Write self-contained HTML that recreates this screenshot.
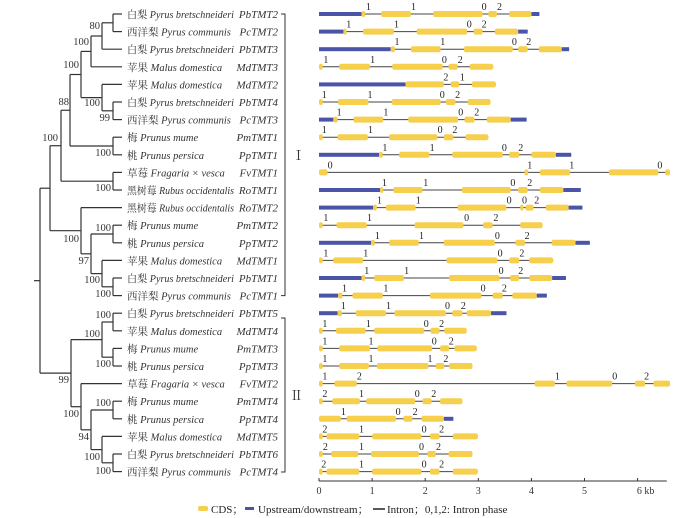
<!DOCTYPE html>
<html><head><meta charset="utf-8">
<style>
html,body{margin:0;padding:0;background:#fff;}
svg{display:block;font-family:"Liberation Serif","Noto Serif CJK SC",serif;}
</style></head>
<body>
<svg id="fig" width="697" height="518" viewBox="0 0 697 518" xmlns="http://www.w3.org/2000/svg">
  <g id="tree" stroke="#333" stroke-width="1.2" fill="none"></g>
  <g id="labels"></g>
  <g id="genes"></g>
  <g id="axis"></g>
  <g stroke="#333" stroke-width="1" fill="none">
    <path d="M281 14 H285 V295.6 H281"/>
    <path d="M281 318 H285 V472 H281"/>
  </g>
  <text x="292" y="160" font-size="13" fill="#333">Ⅰ</text>
  <text x="290" y="400" font-size="13" fill="#333">Ⅱ</text>
  <g font-size="11" fill="#222">
    <rect x="198" y="506" width="10" height="5" rx="2" fill="#f6cf4c"/>
    <text x="211" y="513">CDS；</text>
    <rect x="245" y="507" width="9" height="3" fill="#4b55a8"/>
    <text x="258" y="513">Upstream/downstream；</text>
    <line x1="373" y1="509" x2="385" y2="509" stroke="#222" stroke-width="1.5"/>
    <text x="387" y="513">Intron；0,1,2: Intron phase</text>
  </g>
</svg>
<script>
const NS="http://www.w3.org/2000/svg";
const speciesCN=["白梨","西洋梨","白梨","苹果","苹果","白梨","西洋梨","梅","桃","草莓","黑树莓","黑树莓","梅","桃","苹果","白梨","西洋梨","白梨","苹果","梅","桃","草莓","梅","桃","苹果","白梨","西洋梨"];
const speciesLatin=["Pyrus bretschneideri","Pyrus communis","Pyrus bretschneideri","Malus domestica","Malus domestica","Pyrus bretschneideri","Pyrus communis","Prunus mume","Prunus persica","Fragaria × vesca","Rubus occidentalis","Rubus occidentalis","Prunus mume","Prunus persica","Malus domestica","Pyrus bretschneideri","Pyrus communis","Pyrus bretschneideri","Malus domestica","Prunus mume","Prunus persica","Fragaria × vesca","Prunus mume","Prunus persica","Malus domestica","Pyrus bretschneideri","Pyrus communis"];
const geneNames=["PbTMT2","PcTMT2","PbTMT3","MdTMT3","MdTMT2","PbTMT4","PcTMT3","PmTMT1","PpTMT1","FvTMT1","RoTMT1","RoTMT2","PmTMT2","PpTMT2","MdTMT1","PbTMT1","PcTMT1","PbTMT5","MdTMT4","PmTMT3","PpTMT3","FvTMT2","PmTMT4","PpTMT4","MdTMT5","PbTMT6","PcTMT4"];
const cdsSegments=[
[[0.80,0.87],[1.17,1.73],[2.15,3.08],[3.19,3.35],[3.58,4.00]],
[[0.46,0.52],[0.83,1.41],[1.84,2.79],[2.91,3.08],[3.31,3.75]],
[[1.35,1.43],[1.73,2.29],[2.73,3.65],[3.75,3.93],[4.14,4.57]],
[[0,0.07],[0.38,0.96],[1.38,2.33],[2.44,2.61],[2.84,3.28]],
[[1.63,2.35],[2.48,2.64],[2.88,3.33]],
[[0,0.07],[0.36,0.93],[1.37,2.29],[2.39,2.57],[2.80,3.23]],
[[0.27,0.35],[0.65,1.21],[1.68,2.62],[2.74,2.93],[3.16,3.61]],
[[0,0.07],[0.35,0.92],[1.32,2.23],[2.35,2.53],[2.76,3.19]],
[[1.13,1.20],[1.51,2.08],[2.51,3.46],[3.58,3.77],[4.00,4.46]],
[[0,0.16],[3.87,3.94],[4.16,4.73],[5.46,6.39],[6.52,6.61]],
[[1.15,1.21],[1.40,1.95],[2.69,3.61],[3.75,3.93],[4.16,4.60]],
[[1.02,1.09],[1.26,1.82],[2.61,3.53],[3.79,3.85],[3.89,4.04],[4.27,4.70]],
[[0,0.07],[0.33,0.90],[1.80,2.72],[3.09,3.27],[3.79,4.21]],
[[0.98,1.05],[1.32,1.88],[2.35,3.31],[3.70,3.88],[4.38,4.83]],
[[0,0.07],[0.27,0.83],[2.40,3.36],[3.58,3.77],[3.96,4.41]],
[[0.80,0.87],[1.04,1.60],[2.45,3.40],[3.60,3.77],[3.96,4.39]],
[[0.36,0.44],[0.63,1.20],[2.09,3.06],[3.27,3.46],[3.64,4.10]],
[[0.35,0.43],[0.69,1.26],[1.42,2.39],[2.51,2.70],[2.78,3.24]],
[[0,0.07],[0.32,0.88],[1.04,1.98],[2.10,2.27],[2.36,2.78]],
[[0,0.07],[0.38,0.96],[1.10,2.13],[2.28,2.45],[2.55,2.97]],
[[0,0.07],[0.38,0.94],[1.09,2.06],[2.20,2.36],[2.45,2.89]],
[[0,0.07],[0.29,0.71],[4.06,4.44],[4.66,5.52],[5.95,6.14],[6.30,6.61]],
[[0,0.07],[0.25,0.77],[0.89,1.81],[1.95,2.12],[2.28,2.70]],
[[0,0.41],[0.52,1.45],[1.59,1.76],[1.93,2.35]],
[[0,0.07],[0.14,0.76],[1.00,1.93],[2.09,2.27],[2.52,2.99]],
[[0,0.07],[0.23,0.74],[0.98,1.88],[2.04,2.20],[2.44,2.89]],
[[0,0.07],[0.14,0.76],[1.00,1.93],[2.09,2.27],[2.52,2.99]]
];
const utrSegments=[
[[0,0.80],[4.00,4.15]],[[0,0.46],[3.75,3.93]],[[0,1.35],[4.57,4.71]],[],[[0,1.63]],[],[[0,0.27],[3.61,3.91]],[],
[[0,1.13],[4.46,4.75]],[],[[0,1.15],[4.60,4.93]],[[0,1.02],[4.70,4.96]],[],[[0,0.98],[4.83,5.10]],[],
[[0,0.80],[4.39,4.65]],[[0,0.36],[4.10,4.29]],[[0,0.35],[3.24,3.53]],[],[],[],[],[],[[2.35,2.53]],[],[],[]
];
const phasePos=[
[0.93,1.78,3.11,3.40],[0.56,1.46,2.83,3.11],[1.47,2.33,3.68,3.95],[0.13,1.01,2.36,2.66],[2.39,2.70],
[0.10,0.96,2.32,2.61],[0.38,1.26,2.67,2.97],[0.10,0.97,2.28,2.56],[1.24,2.13,3.49,3.80],[0.21,3.97,4.76,6.42],
[1.23,2.01,3.65,3.97],[1.14,1.87,3.58,3.87,4.10],[0.13,0.95,2.78,3.33],[1.10,1.93,3.36,3.92],[0.13,0.88,3.41,3.82],
[0.90,1.65,3.43,3.80],[0.48,1.26,3.09,3.49],[0.46,1.31,2.42,2.72],[0.11,0.93,2.02,2.31],[0.11,0.98,2.17,2.49],
[0.11,0.98,2.09,2.39],[0.11,0.76,4.49,5.57,6.17],[0.11,0.80,1.85,2.16],[0.46,1.49,1.81],[0.11,0.80,1.98,2.31],
[0.12,0.80,1.93,2.25],[0.09,0.80,1.98,2.31]
];
const phaseText=[
["1","1","0","2"],["1","1","0","2"],["1","1","0","2"],["1","1","0","2"],["2","1"],
["1","1","0","2"],["1","1","0","2"],["1","1","0","2"],["1","1","0","2"],["0","1","1","0"],
["1","1","0","2"],["1","1","0","0","2"],["1","1","0","2"],["1","1","0","2"],["1","1","0","2"],
["1","1","0","2"],["1","1","0","2"],["1","1","0","2"],["1","1","0","2"],["1","1","0","2"],
["1","1","1","2"],["1","2","1","0","2"],["2","1","0","2"],["1","0","2"],["2","1","0","2"],
["2","1","0","2"],["2","1","0","2"]
];
const axisTicks=[0,1,2,3,4,5,6];
const axisTickLabels=["0","1","2","3","4","5","6 kb"];
const axisMax=6.55;
const treeNodes=[
 ["n12",113,[1,2]],["n80",102,["n12",3]],["nA",91,["n80",4]],
 ["n67",113,[6,7]],["nB",102,[5,"n67"]],["nAB",81,["nA","nB"]],
 ["n89",113,[8,9]],["n88",70,["nAB","n89"]],["n1011",113,[10,11]],
 ["nC",61,["n88","n1011"]],["n1314",113,[13,14]],["n1617",113,[16,17]],
 ["n1517",102,[15,"n1617"]],["n97",91,["n1314","n1517"]],["nD",81,[12,"n97"]],
 ["nI",50,["nC","nD"]],
 ["n1819",113,[18,19]],["n2021",113,[20,21]],["nE",102,["n1819","n2021"]],
 ["n2324",113,[23,24]],["n2627",113,[26,27]],["n2527",102,[25,"n2627"]],
 ["n94",91,["n2324","n2527"]],["nF",81,[22,"n94"]],["n99",71,["nE","nF"]],
 ["root",40,["nI","n99"]]
];
const bootValues=["80","100","100","100","99","88","100","100","100","100","100","97","100","100","100","100","100","99","100","100","94","100","100"];
const bootPos=[[100,29],[89,45],[79,68],[100,106],[110,121],[69,105],[111,156],[58,141],[111,191],[111,231],[79,242],[89,264],[100,283],[111,297],[111,318],[100,337],[111,367],[69,383],[111,406],[79,417],[89,440],[100,460],[111,474]];

const rowY=i=>14+(i-1)*17.6;
const x0=319, kbPx=53.1;
const xs=kb=>x0+kb*kbPx;
function el(tag,attrs,parent){const e=document.createElementNS(NS,tag);for(const k in attrs)e.setAttribute(k,attrs[k]);parent.appendChild(e);return e;}

const tree=document.getElementById('tree');
const nodeMap={};treeNodes.forEach(n=>nodeMap[n[0]]=n);
const LEAFX=122;
function yOf(c){if(typeof c==='number')return rowY(c);const n=nodeMap[c];return (yOf(n[2][0])+yOf(n[2][1]))/2;}
function xOf(c){return typeof c==='number'?LEAFX:nodeMap[c][1];}
treeNodes.forEach(n=>{
  const x=n[1];const ys=n[2].map(yOf);
  const v=el('line',{x1:x,y1:ys[0],x2:x,y2:ys[1]},tree);
  
  
  n[2].forEach((c,k)=>{
    const h=el('line',{x1:x,y1:ys[k],x2:xOf(c),y2:ys[k]},tree);
    
    
  });
});
el('line',{x1:34,y1:yOf('root'),x2:40,y2:yOf('root')},tree);
const labels=document.getElementById('labels');
bootValues.forEach((b,i)=>{
  const t=el('text',{x:bootPos[i][0],y:bootPos[i][1],'font-size':10.5,'text-anchor':'end',fill:'#333'},labels);
  
  
  t.textContent=b;
});
geneNames.forEach((g,i)=>{
  const y=rowY(i+1)+4;
  const t=el('text',{x:127,y:y,'font-size':10.5,fill:'#333'},labels);
  
  
  const a=el('tspan',{},t);a.textContent=speciesCN[i]+' ';
  const b=el('tspan',{'font-style':'italic'},t);b.textContent=speciesLatin[i];
  try{const w=t.getComputedTextLength();if(w>107){t.setAttribute('textLength',107);t.setAttribute('lengthAdjust','spacingAndGlyphs');}}catch(e){}
  const gn=el('text',{x:278,y:y,'font-size':11,'font-style':'italic','text-anchor':'end',fill:'#333'},labels);
  
  
  gn.textContent=g;
});

const genes=document.getElementById('genes');
geneNames.forEach((g,i)=>{
  const y=rowY(i+1);
  const grp=el('g',{},genes);
  
  
  const all=cdsSegments[i].concat(utrSegments[i]);
  const mn=Math.min(...all.map(s=>s[0])),mx=Math.max(...all.map(s=>s[1]));
  const ln=el('line',{x1:xs(mn),y1:y,x2:xs(mx),y2:y,stroke:'#444','stroke-width':1},grp);
  
  
  utrSegments[i].forEach(s=>{
    const r=el('rect',{x:xs(s[0]),y:y-2,width:xs(s[1])-xs(s[0]),height:4,fill:'#4b55a8'},grp);
    
    
  });
  cdsSegments[i].forEach(s=>{
    const w=Math.max(xs(s[1])-xs(s[0]),3);
    const r=el('rect',{x:xs(s[0]),y:y-3,width:w,height:6,rx:2,fill:'#f6cf4c'},grp);
    
    
  });
  phasePos[i].forEach((p,k)=>{
    const t=el('text',{x:xs(p),y:y-4,'font-size':10,'text-anchor':'middle',fill:'#222'},grp);
    
    
    t.textContent=phaseText[i][k];
  });
});

const axis=document.getElementById('axis');
const ay=481;
el('line',{x1:xs(0),y1:ay,x2:xs(axisMax),y2:ay,stroke:'#333','stroke-width':1},axis);
axisTicks.forEach((t,i)=>{
  const tk=el('line',{x1:xs(t),y1:ay,x2:xs(t),y2:ay-3,stroke:'#333','stroke-width':1},axis);
  
  
  const lb=el('text',{x:xs(t)+(i===6?8:0),y:ay+13,'font-size':10,'text-anchor':'middle',fill:'#333'},axis);
  
  
  lb.textContent=axisTickLabels[i];
});
</script>
</body></html>
